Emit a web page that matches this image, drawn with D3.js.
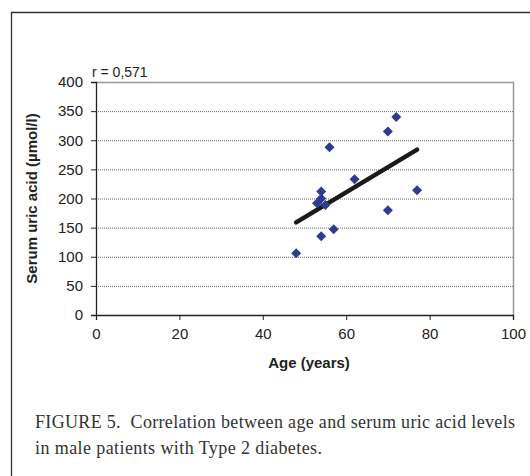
<!DOCTYPE html>
<html><head><meta charset="utf-8">
<script src="https://cdn.jsdelivr.net/npm/d3@7"></script>
<style>body{margin:0;background:#fff}svg{display:block}</style>
</head><body>
<script>
const ages = [48, 54, 57, 54, 53, 54, 55, 56, 62, 70, 72, 70, 77];
const uricAcid = [106, 135, 147, 212, 192, 200, 189, 288, 233, 315, 340, 180, 214];
const trendAges = [48, 77];
const trendUric = [159, 284];
const xTicks = [0, 20, 40, 60, 80, 100];
const yTicks = [0, 50, 100, 150, 200, 250, 300, 350, 400];
const rLabel = "r = 0,571";
const xTitle = "Age (years)";
const yTitle = "Serum uric acid (µmol/l)";
const caption = ["FIGURE 5.  Correlation between age and serum uric acid levels", "in male patients with Type 2 diabetes."];
const captionWidths = [480, 287];

const W = 530, H = 476;
const svg = d3.select("body").append("svg").attr("width", W).attr("height", H);

// outer frame
svg.append("path").attr("d", "M11.5,476 V12.5 H530").attr("fill", "none").attr("stroke", "#333").attr("stroke-width", 1.3);

const x = d3.scaleLinear().domain([0, 100]).range([96, 513]);
const y = d3.scaleLinear().domain([0, 400]).range([315, 82]);

// grid
svg.append("g").selectAll("line").data(yTicks.filter(d => d > 0 && d < 400)).join("line")
  .attr("x1", x(0)).attr("x2", x(100)).attr("y1", d => y(d) + 0.5).attr("y2", d => y(d) + 0.5)
  .attr("stroke", "#666").attr("stroke-width", 1).attr("stroke-dasharray", "1,1");

// plot border top/right
svg.append("path").attr("d", `M${x(0)},${y(400)+0.5} H${x(100)+0.5} V${y(0)}`).attr("fill", "none")
  .attr("stroke", "#999").attr("stroke-width", 1.5);

const font = "'Liberation Sans', Arial, sans-serif";
// axes
const xAxis = d3.axisBottom(x).tickValues(xTicks).tickSize(5).tickPadding(8);
const gx = svg.append("g").attr("transform", `translate(0,${y(0)})`).call(xAxis);
const yAxis = d3.axisLeft(y).tickValues(yTicks).tickSize(5).tickPadding(8);
const gy = svg.append("g").attr("transform", `translate(${x(0)},0)`).call(yAxis);
[gx, gy].forEach(g => {
  g.select(".domain").attr("stroke", "#222").attr("stroke-width", 1.3);
  g.selectAll(".tick line").attr("stroke", "#222");
  g.selectAll("text").attr("font-family", font).attr("font-size", 15).attr("fill", "#222");
});

// trend line
svg.append("line").attr("x1", x(trendAges[0])).attr("y1", y(trendUric[0]))
  .attr("x2", x(trendAges[1])).attr("y2", y(trendUric[1]))
  .attr("stroke", "#1a1a1a").attr("stroke-width", 4.5).attr("stroke-linecap", "round");

// points
const sym = d3.symbol().type(d3.symbolSquare).size(50);
svg.append("g").selectAll("path").data(ages.map((a, i) => [a, uricAcid[i]])).join("path")
  .attr("d", sym).attr("transform", d => `translate(${x(d[0])},${y(d[1])}) rotate(45)`)
  .attr("fill", "#2e3b8f");

// labels
svg.append("text").attr("x", 92).attr("y", 77).attr("font-family", font).attr("font-size", 14).attr("fill", "#222").text(rLabel);
svg.append("text").attr("x", 309).attr("y", 368).attr("text-anchor", "middle")
  .attr("font-family", font).attr("font-size", 15).attr("font-weight", "bold").attr("fill", "#222").text(xTitle);
svg.append("text").attr("transform", `translate(37,${(y(0)+y(400))/2}) rotate(-90)`).attr("text-anchor", "middle")
  .attr("font-family", font).attr("font-size", 15).attr("font-weight", "bold").attr("fill", "#222").text(yTitle);

// caption
svg.append("g").selectAll("text").data(caption).join("text")
  .attr("x", 35).attr("y", (d, i) => 428 + i * 26)
  .attr("font-family", "'Liberation Serif', 'Times New Roman', serif").attr("font-size", 18).attr("fill", "#333")
  .attr("textLength", (d, i) => captionWidths[i]).attr("lengthAdjust", "spacing")
  .attr("xml:space", "preserve").style("white-space", "pre").text(d => d);
</script>
</body></html>
